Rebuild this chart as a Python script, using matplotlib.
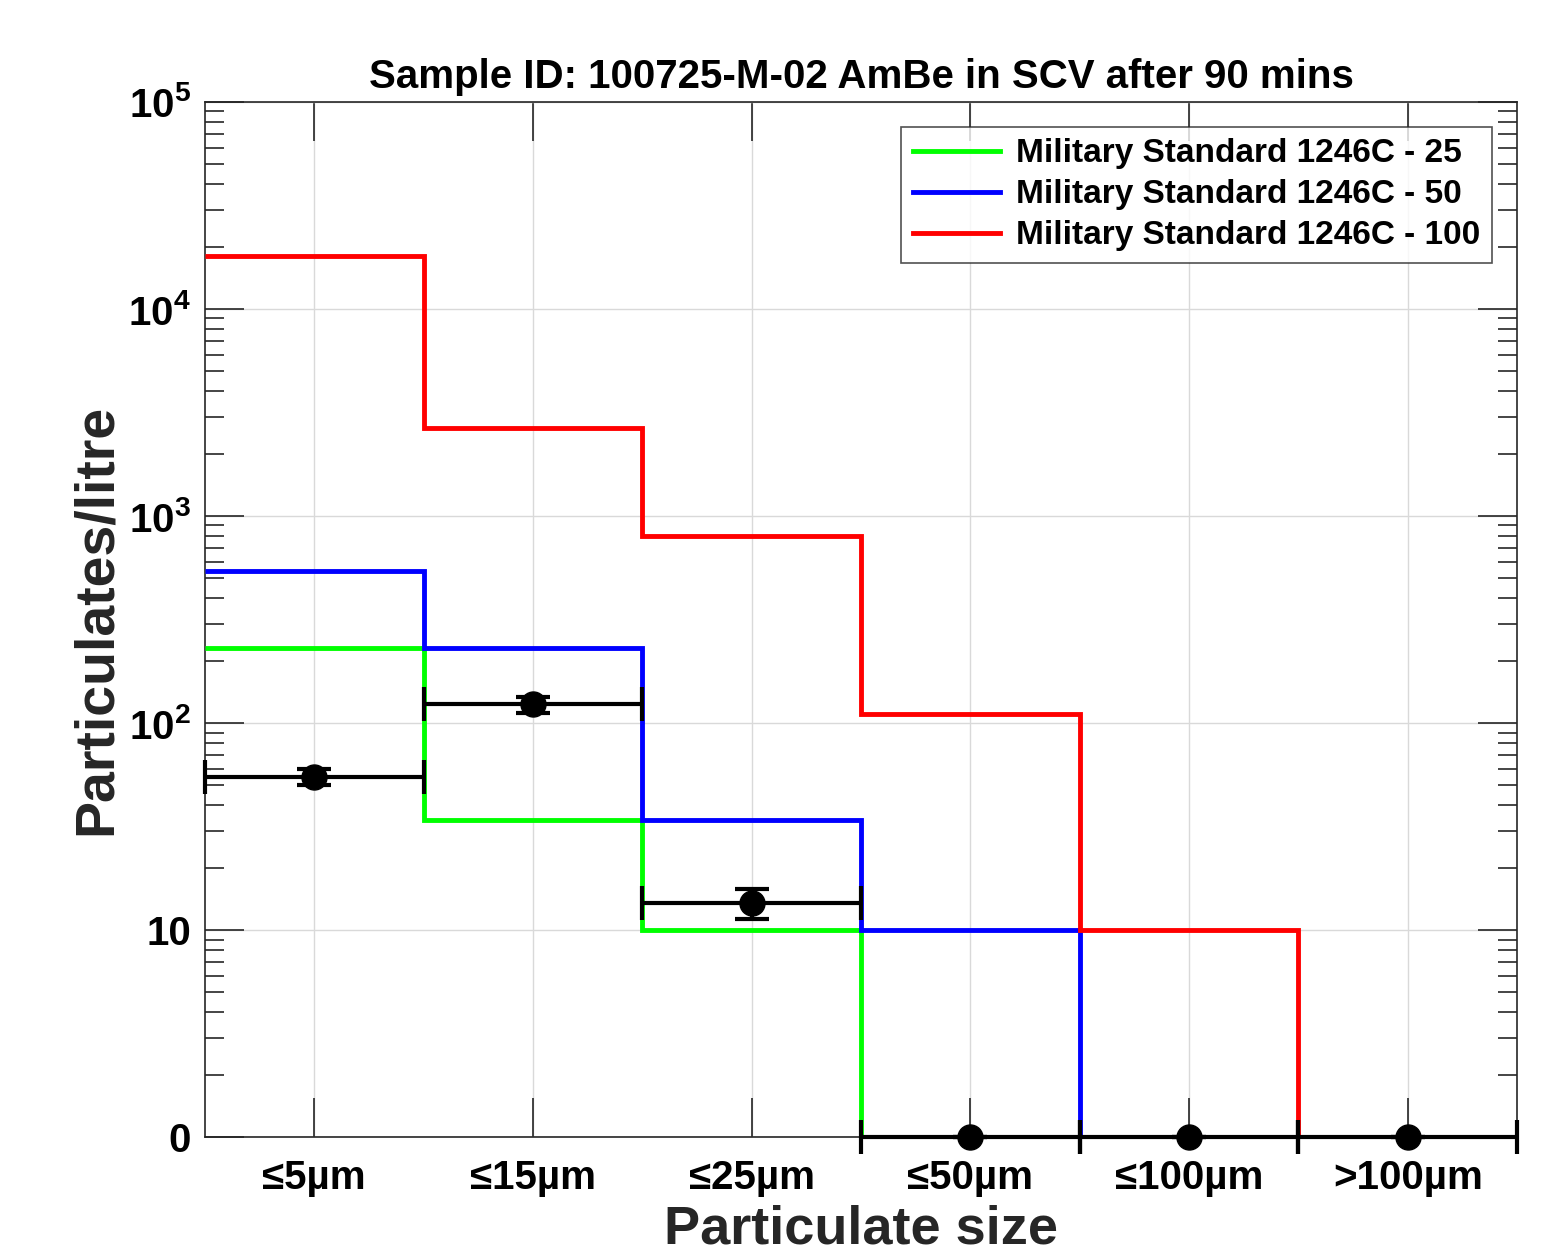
import numpy as np
import matplotlib
matplotlib.use("Agg")
import matplotlib.pyplot as plt
from matplotlib.ticker import FixedLocator, FixedFormatter, LogLocator, NullFormatter

plt.rcParams['font.family'] = ['Liberation Sans', 'DejaVu Sans']
plt.rcParams['font.weight'] = 'bold'
plt.rcParams['mathtext.fontset'] = 'custom'
plt.rcParams['mathtext.rm'] = 'Liberation Sans:bold'
plt.rcParams['mathtext.bf'] = 'Liberation Sans:bold'
plt.rcParams['mathtext.default'] = 'rm'

# size bins
sizes = ['≤5µm', '≤15µm', '≤25µm', '≤50µm', '≤100µm', '>100µm']

# MIL-STD-1246C limits (particulates/litre)
std_25 = [230, 34, 10, 0, 0, 0]
std_50 = [540, 230, 34, 10, 0, 0]
std_100 = [18000, 2650, 800, 110, 10, 0]

# measured sample
measured = [55, 123, 13.5, 0, 0, 0]
measured_err = [5, 11, 2.2, 0, 0, 0]

FLOOR = 1  # zero is drawn on the axis floor, labelled "0"


def floor0(v):
    v = np.array(v, dtype=float)
    return np.where(v <= 0, FLOOR, v)


x = np.arange(1, len(sizes) + 1)
edges = np.arange(0.5, len(sizes) + 1)

fig = plt.figure(figsize=(15.68, 12.56), dpi=100)
ax = fig.add_axes([0.1307, 0.0947, 0.8368, 0.8241])

l25 = ax.stairs(floor0(std_25), edges, baseline=None, color='#00ff00', linewidth=3.5,
                label='Military Standard 1246C - 25', zorder=3)
l50 = ax.stairs(floor0(std_50), edges, baseline=None, color='#0000ff', linewidth=3.5,
                label='Military Standard 1246C - 50', zorder=3)
l100 = ax.stairs(floor0(std_100), edges, baseline=None, color='#ff0000', linewidth=3.5,
                 label='Military Standard 1246C - 100', zorder=3)

ax.errorbar(x, floor0(measured), xerr=0.5, yerr=measured_err, fmt='o', color='black',
            markersize=18, linewidth=3, elinewidth=3, capsize=12, capthick=3,
            zorder=5, clip_on=False)

ax.set_yscale('log')
ax.set_xlim(0.5, 6.5)
ax.set_ylim(1, 1e5)

ax.xaxis.set_major_locator(FixedLocator(x))
ax.set_xticklabels(sizes)
yt = [1, 10, 100, 1000, 10000, 100000]
ax.yaxis.set_major_locator(FixedLocator(yt))
ax.yaxis.set_major_formatter(FixedFormatter(['0', '10', '$10^2$', '$10^3$', '$10^4$', '$10^5$']))
ax.yaxis.set_minor_locator(LogLocator(base=10, subs=np.arange(2, 10), numticks=20))
ax.yaxis.set_minor_formatter(NullFormatter())

ax.tick_params(which='major', direction='in', length=28, width=1.2, top=True, right=True,
               labelsize=29, color='#262626')
ax.tick_params(axis='x', which='major', pad=16)
ax.tick_params(axis='y', which='major', pad=10)
ax.tick_params(which='minor', direction='in', length=14, width=1.2, right=True, color='#262626')
ax.tick_params(axis='x', which='minor', bottom=False, top=False)

ax.grid(True, which='major', color='#d9d9d9', linewidth=1)
for s in ax.spines.values():
    s.set_color('#262626')
    s.set_linewidth(1.2)

ax.set_title('Sample ID: 100725-M-02 AmBe in SCV after 90 mins', fontsize=29,
             fontweight='bold', pad=10)
ax.set_xlabel('Particulate size', fontsize=39, fontweight='bold', color='#262626', labelpad=5)
ax.set_ylabel('Particulates/litre', fontsize=40, fontweight='bold', color='#262626', labelpad=4)

leg = ax.legend(handles=[l25, l50, l100], loc='upper right', fontsize=24, frameon=True,
                fancybox=False, edgecolor='#262626', handlelength=2.6, handletextpad=0.5,
                bbox_to_anchor=(0.981, 0.976), borderaxespad=0, labelspacing=0.3,
                borderpad=0.35)
leg.get_frame().set_linewidth(1.2)
for h in leg.get_lines():
    h.set_linewidth(3.5)

fig.savefig('out.png', dpi=100)
